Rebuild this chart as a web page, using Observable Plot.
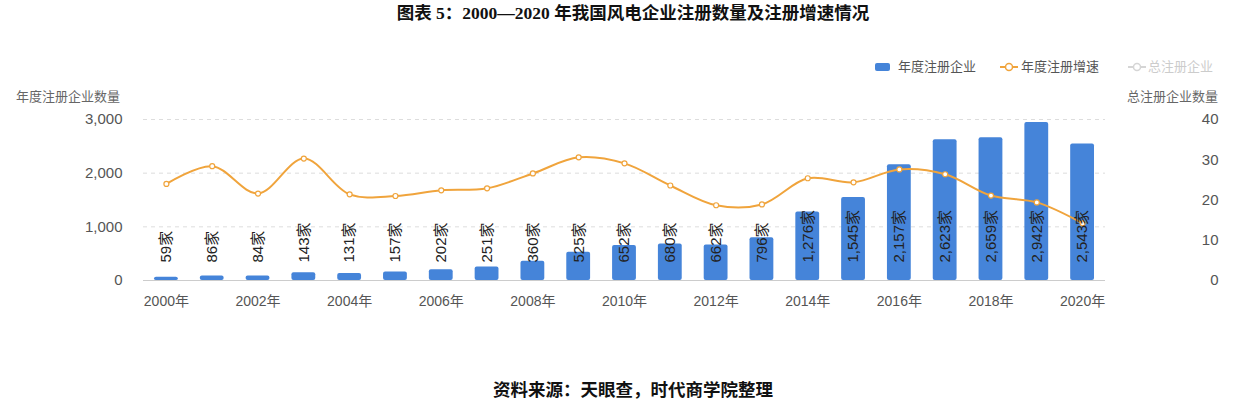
<!DOCTYPE html>
<html>
<head>
<meta charset="utf-8">
<script src="https://cdn.jsdelivr.net/npm/d3@7"></script>
<script src="https://cdn.jsdelivr.net/npm/@observablehq/plot@0.6"></script>
<style>
  html, body { margin: 0; padding: 0; background: #fff; }
  #wrap { position: relative; width: 1240px; height: 406px; overflow: hidden; font-family: "Liberation Sans", "Noto Sans CJK SC", sans-serif; }
  #title { position: absolute; top: 1px; left: 0; width: 1266px; text-align: center; font-family: "Liberation Serif", "Noto Sans CJK SC", serif; font-weight: bold; font-size: 17.5px; line-height: 24px; color: #111; }
  #caption { position: absolute; top: 378px; left: 0; width: 1266px; text-align: center; font-family: "Liberation Serif", "Noto Sans CJK SC", serif; font-weight: bold; font-size: 17.5px; line-height: 24px; color: #111; }
  #chart { position: absolute; top: 40px; left: 0; }
  .lg { position: absolute; font-size: 13px; line-height: 16px; color: #555; white-space: nowrap; }
  .axt { position: absolute; font-size: 13px; line-height: 16px; color: #666; white-space: nowrap; }
</style>
</head>
<body>
<div id="wrap">
  <div id="title">图表 5：2000—2020 年我国风电企业注册数量及注册增速情况</div>
  <div id="chart"></div>
  <div class="lg" style="left:875px; top:59px;">
    <span style="display:inline-block;width:15px;height:8px;background:#4584d9;border-radius:2px;vertical-align:middle;margin-right:8px;position:relative;top:-1px;"></span>年度注册企业
  </div>
  <div class="lg" style="left:1000px; top:59px;">
    <svg width="18" height="12" style="vertical-align:middle;margin-right:3px;position:relative;top:-1px;"><line x1="0" y1="6" x2="18" y2="6" stroke="#f0a43c" stroke-width="2"/><circle cx="9" cy="6" r="3.5" fill="#fff" stroke="#f0a43c" stroke-width="1.5"/></svg>年度注册增速
  </div>
  <div class="lg" style="left:1128px; top:59px; color:#ccc;">
    <svg width="18" height="12" style="vertical-align:middle;margin-right:2px;position:relative;top:-1px;"><line x1="0" y1="6" x2="18" y2="6" stroke="#d5d5d5" stroke-width="2"/><circle cx="9" cy="6" r="3.5" fill="#fff" stroke="#d5d5d5" stroke-width="1.5"/></svg>总注册企业
  </div>
  <div class="axt" style="left:16px; top:89px;">年度注册企业数量</div>
  <div class="axt" style="left:1127px; top:89px;">总注册企业数量</div>
  <div id="caption">资料来源：天眼查，时代商学院整理</div>
</div>
<script>
const years = [2000,2001,2002,2003,2004,2005,2006,2007,2008,2009,2010,2011,2012,2013,2014,2015,2016,2017,2018,2019,2020];
const counts = [59,86,84,143,131,157,202,251,360,525,652,680,662,796,1276,1545,2157,2623,2659,2942,2543];
const growth = [24,28.4,21.6,30.3,21.4,21,22.4,22.9,26.6,30.6,29.1,23.6,18.7,18.9,25.4,24.4,27.6,26.4,21.1,19.4,14.2];
const leftTicks = [0,1000,2000,3000];
const rightTicks = [0,10,20,30,40];
const xTickYears = [2000,2002,2004,2006,2008,2010,2012,2014,2016,2018,2020];

const leftMax = 3000, rightMax = 40;
const k = leftMax / rightMax;
const data = years.map((y, i) => ({year: y, count: counts[i], growth: growth[i]}));
const fmt = d3.format(",");
const orange = "#f0a43c";

const chart = Plot.plot({
  width: 1240,
  height: 300,
  marginLeft: 143,
  marginRight: 135,
  marginTop: 79,
  marginBottom: 60,
  style: {fontFamily: '"Liberation Sans", "Noto Sans CJK SC", sans-serif', background: "transparent"},
  x: {type: "band", domain: years, paddingInner: 0.48, paddingOuter: 0.24, round: false, axis: null},
  y: {domain: [0, leftMax], axis: null},
  marks: [
    Plot.ruleY(leftTicks.filter(d => d > 0), {stroke: "#ddd", strokeDasharray: "4,4"}),
    Plot.ruleY([0], {stroke: "#ccc"}),
    Plot.axisY({ticks: leftTicks, tickFormat: fmt, tickSize: 0, tickPadding: 21, fontSize: 15, fill: "#555", label: null}),
    Plot.text(rightTicks, {y: d => d * k, text: d => String(d), frameAnchor: "right", dx: 113, textAnchor: "end", fontSize: 15, fill: "#555"}),
    Plot.axisX({ticks: xTickYears, tickFormat: d => d + "年", tickSize: 0, tickPadding: 16, fontSize: 14, fill: "#555", label: null}),
    Plot.barY(data, {x: "year", y: "count", fill: "#4584d9", rx: 2}),
    Plot.line(data, {x: "year", y: d => d.growth * k, stroke: orange, strokeWidth: 2, curve: "catmull-rom"}),
    Plot.dot(data, {x: "year", y: d => d.growth * k, r: 2.5, fill: "#fff", stroke: orange, strokeWidth: 1.2}),
    Plot.text(data, {x: "year", y: 0, text: d => fmt(d.count) + "家", rotate: -90, textAnchor: "start", dy: -18, fontSize: 15, fill: "#222"})
  ]
});
document.getElementById("chart").appendChild(chart);
</script>
</body>
</html>
